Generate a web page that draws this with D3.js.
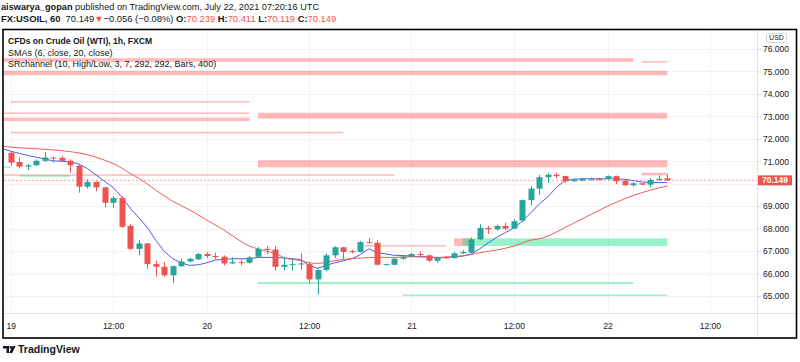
<!DOCTYPE html>
<html>
<head>
<meta charset="utf-8">
<script src="https://cdn.jsdelivr.net/npm/d3@7"></script>
<style>
body { margin: 0; background: #fff; }
svg { display: block; font-family: "Liberation Sans", Arial, sans-serif; }
</style>
</head>
<body>
<svg id="chart" width="800" height="362"></svg>
<script>
// candles, 1h bars, index 0 = Jul 19 00:00
var opens  = [71.38,70.97,70.76,70.82,71.02,71.17,71.15,71.02,70.80,69.87,70.08,69.84,69.15,69.36,68.12,67.10,67.34,66.42,66.30,65.92,
              66.33,66.54,66.63,66.87,66.78,66.75,66.45,66.51,66.48,66.75,67.10,67.07,66.30,66.40,66.42,66.42,65.74,66.16,66.81,67.17,
              67.00,66.96,67.40,67.37,66.39,66.39,66.66,66.75,66.87,66.81,66.57,66.72,66.69,66.90,66.93,67.52,68.03,67.97,68.12,68.00,
              68.36,69.27,69.78,70.29,70.40,70.34,70.11,70.14,70.20,70.22,70.22,70.34,70.14,69.93,70.02,69.96,70.17,70.239];
var highs  = [71.42,71.18,70.88,71.09,71.41,71.20,71.23,71.09,70.85,70.20,70.10,69.86,69.45,69.45,68.20,67.50,67.36,66.57,66.51,66.36,
              66.66,66.70,66.92,66.96,66.93,66.81,66.72,66.63,66.78,67.19,67.22,67.22,66.75,66.63,66.90,66.51,66.24,66.90,67.22,67.19,
              67.06,67.46,67.58,67.49,66.44,66.69,66.78,66.93,66.99,66.84,66.74,66.78,66.96,67.05,67.61,68.20,68.12,68.18,68.26,68.42,
              69.30,69.90,70.40,70.49,70.49,70.36,70.25,70.25,70.28,70.26,70.37,70.36,70.16,70.08,70.05,70.25,70.37,70.411];
var lows   = [70.79,70.67,70.61,70.80,70.97,70.94,71.00,70.49,69.60,69.78,69.66,68.95,68.92,68.03,67.05,66.81,66.21,65.86,65.86,65.59,
              66.28,66.50,66.60,66.69,66.63,66.36,66.42,66.36,66.45,66.72,66.87,66.13,66.13,66.13,66.16,65.59,65.06,66.10,66.69,66.63,
              66.90,66.93,67.36,66.36,66.36,66.36,66.60,66.72,66.78,66.51,66.48,66.66,66.66,66.88,66.90,67.48,67.76,67.90,67.95,67.98,
              68.30,69.04,69.51,70.04,70.25,70.04,70.08,70.11,70.14,70.15,70.18,69.99,69.90,69.87,69.93,69.84,70.14,70.119];
var closes = [70.94,70.76,70.82,71.02,71.17,71.15,71.02,70.82,69.87,70.08,69.84,69.15,69.36,68.08,67.10,67.34,66.42,66.30,65.92,66.33,
              66.54,66.66,66.87,66.78,66.76,66.45,66.51,66.48,66.72,67.10,67.05,66.30,66.39,66.42,66.45,65.74,66.16,66.81,67.17,66.96,
              66.95,67.40,67.37,66.39,66.42,66.66,66.75,66.87,66.84,66.57,66.72,66.69,66.90,66.96,67.52,68.03,67.97,68.12,68.00,68.33,
              69.27,69.78,70.29,70.40,70.34,70.11,70.17,70.22,70.22,70.20,70.34,70.11,69.93,70.02,69.96,70.17,70.22,70.149];

// SMA 6, bar -1 .. 77
var sma6 = [71.56,71.45,71.35,71.26,71.18,71.10,71.02,71.00,70.97,70.88,70.67,70.40,70.11,69.84,69.42,68.92,68.50,68.06,67.49,66.99,66.66,
            66.48,66.36,66.39,66.48,66.60,66.63,66.66,66.66,66.66,66.72,66.72,66.72,66.69,66.66,66.63,66.36,66.24,66.36,66.48,66.57,
            66.66,66.84,67.10,66.93,66.87,66.81,66.80,66.78,66.75,66.75,66.69,66.72,66.75,66.78,66.87,67.10,67.37,67.61,67.82,68.03,
            68.33,68.71,69.10,69.42,69.84,70.14,70.20,70.22,70.22,70.22,70.22,70.22,70.20,70.14,70.08,70.05,70.05,70.05];
// SMA 20 at these bars
var sma20Bars = [-1,0,3,6,9,11,12,13,14,15,17,19,21,23,25,27,28,29,30,31,32,34,35,36,37,39,41,43,45,47,50,53,55,57,59,61,62,66,70,72,74,76,77];
var sma20Vals = [71.68,71.63,71.56,71.47,71.29,71.05,70.90,70.70,70.46,70.25,69.72,69.22,68.83,68.38,67.94,67.43,67.22,67.10,66.99,66.90,66.72,66.57,66.48,66.45,
                 66.51,66.63,66.69,66.72,66.72,66.75,66.72,66.78,66.93,67.05,67.22,67.49,67.55,68.24,69.00,69.33,69.60,69.81,69.90];

// SRchannel zones: [from bar, to bar, top price, bottom price]
var resistZones = [[-1,73,75.59,75.43],[74,77,75.46,75.44],[-1,77,75.03,74.83],[0,28,73.68,73.66],[-1,28,73.17,73.15],
                   [-1,28,72.94,72.79],[29,77,73.16,72.90],[0,39,72.31,72.29],[29,77,71.05,70.73],[74,77,70.49,70.37],
                   [-1,45,70.42,70.40],[52,54,67.57,67.23],[41.5,51,67.27,67.25]];
var supportZones = [[-1,0,70.77,70.75],[1,7,70.38,70.36],[53,77,67.57,67.23],[29,73,65.62,65.53],[46,77,65.07,65.05]];

var gridPrices = [65,66,67,68,69,70,71,72,73,74,75,76];
var priceLabels = [65,66,67,68,69,71,72,73,74,75,76];
var timeTickBars = [0,12,23,35,47,59,70,82];
var timeTickLabels = ["19","12:00","20","12:00","21","12:00","22","12:00"];
var lastPrice = 70.149;

var up = "#26a69a", down = "#ef5350";
var pane = {left: 4, right: 757, top: 30, bottom: 313};

var svg = d3.select("#chart");
var x = d3.scaleLinear().domain([0, 77]).range([10.7, 667.3]);
var y = d3.scaleLinear().domain([65, 76]).range([296, 49]);

svg.append("clipPath").attr("id", "paneClip").append("rect")
  .attr("x", pane.left).attr("y", pane.top)
  .attr("width", pane.right - pane.left).attr("height", pane.bottom - pane.top);

//grid
var grid = svg.append("g");
grid.selectAll(".hg").data(gridPrices).enter().append("line")
  .attr("x1", pane.left).attr("x2", pane.right)
  .attr("y1", function(d) { return Math.round(y(d)) + 0.5; })
  .attr("y2", function(d) { return Math.round(y(d)) + 0.5; })
  .attr("stroke", "#f0f3fa");
grid.selectAll(".vg").data(timeTickBars).enter().append("line")
  .attr("x1", function(d) { return Math.round(x(d)) + 0.5; })
  .attr("x2", function(d) { return Math.round(x(d)) + 0.5; })
  .attr("y1", pane.top).attr("y2", pane.bottom)
  .attr("stroke", "#f0f3fa");

var plot = svg.append("g").attr("clip-path", "url(#paneClip)");

//SR zones
function drawZones(zones, color)
{
  plot.append("g").selectAll("rect").data(zones).enter().append("rect")
    .attr("x", function(d) { return x(d[0]); })
    .attr("width", function(d) { return x(d[1]) - x(d[0]); })
    .attr("y", function(d) { return y(d[2]); })
    .attr("height", function(d) { return Math.max(1.5, y(d[3]) - y(d[2])); })
    .attr("fill", color);
}
drawZones(resistZones, "rgba(255,70,70,0.38)");
drawZones(supportZones, "rgba(0,222,120,0.4)");

//last price line
plot.append("line")
  .attr("x1", pane.left).attr("x2", pane.right)
  .attr("y1", y(lastPrice)).attr("y2", y(lastPrice))
  .attr("stroke", down).attr("stroke-opacity", 0.55)
  .attr("stroke-dasharray", "2,2");

//moving averages
var sma6Line = d3.line()
  .x(function(d, i) { return x(i - 1); })
  .y(function(d) { return y(d); });
plot.append("path").attr("d", sma6Line(sma6))
  .attr("fill", "none").attr("stroke", "#5656f2").attr("stroke-width", 1);

var sma20Line = d3.line().curve(d3.curveMonotoneX)
  .x(function(d, i) { return x(sma20Bars[i]); })
  .y(function(d) { return y(d); });
plot.append("path").attr("d", sma20Line(sma20Vals))
  .attr("fill", "none").attr("stroke", "#f45a5a").attr("stroke-width", 1);

//candles
var bars = d3.range(opens.length);
var cg = plot.append("g");
cg.selectAll(".wick").data(bars).enter().append("line")
  .attr("x1", function(i) { return Math.round(x(i)) + 0.5; })
  .attr("x2", function(i) { return Math.round(x(i)) + 0.5; })
  .attr("y1", function(i) { return y(highs[i]); })
  .attr("y2", function(i) { return y(lows[i]); })
  .attr("stroke", function(i) { return closes[i] >= opens[i] ? up : down; });
cg.selectAll(".body").data(bars).enter().append("rect")
  .attr("x", function(i) { return Math.round(x(i)) + 0.5 - 3; })
  .attr("width", 6)
  .attr("y", function(i) { return y(Math.max(opens[i], closes[i])); })
  .attr("height", function(i) { return Math.max(1, Math.abs(y(opens[i]) - y(closes[i]))); })
  .attr("fill", function(i) { return closes[i] >= opens[i] ? up : down; });

//price axis
var yAxis = d3.axisRight(y).tickValues(priceLabels).tickFormat(d3.format(".3f")).tickSize(4).tickPadding(2);
var ya = svg.append("g").attr("transform", "translate(" + pane.right + ",0)").call(yAxis);
ya.select(".domain").remove();
ya.selectAll("line").attr("stroke", "#d1d4dc");
ya.selectAll("text").attr("fill", "#131722").style("font-size", "8.5px");
svg.append("line").attr("x1", pane.right + 0.5).attr("x2", pane.right + 0.5)
  .attr("y1", pane.top).attr("y2", 338).attr("stroke", "#e0e3eb");

//time axis
var xAxis = d3.axisBottom(x).tickValues(timeTickBars)
  .tickFormat(function(d, i) { return timeTickLabels[i]; }).tickSize(0).tickPadding(10);
var xa = svg.append("g").attr("transform", "translate(0," + pane.bottom + ")").call(xAxis);
xa.select(".domain").remove();
xa.selectAll("text").attr("fill", "#131722").style("font-size", "8.5px");
svg.append("line").attr("x1", pane.left).attr("x2", 796)
  .attr("y1", pane.bottom + 0.5).attr("y2", pane.bottom + 0.5).attr("stroke", "#e0e3eb");

//last price label
svg.append("rect").attr("x", 758).attr("y", y(lastPrice) - 5).attr("width", 34).attr("height", 10)
  .attr("fill", down);
svg.append("text").attr("x", 775).attr("y", y(lastPrice)).attr("dy", "0.35em")
  .attr("text-anchor", "middle").attr("fill", "#fff").style("font-size", "8.5px").style("font-weight", "bold")
  .text(d3.format(".3f")(lastPrice));

//currency box
svg.append("rect").attr("x", 766.5).attr("y", 33.5).attr("width", 20).attr("height", 9).attr("rx", 2)
  .attr("fill", "#fff").attr("stroke", "#d1d4dc");
svg.append("text").attr("x", 776.5).attr("y", 38).attr("dy", "0.35em").attr("text-anchor", "middle")
  .attr("fill", "#131722").style("font-size", "7px").text("USD");

//frame
svg.append("rect").attr("x", 3).attr("y", 29.5).attr("width", 793.5).attr("height", 308.5)
  .attr("fill", "none").attr("stroke", "#000").attr("stroke-width", 1.6);

//legend
var lg = svg.append("g").style("font-size", "9px").attr("fill", "#131722");
lg.append("text").attr("x", 8).attr("y", 44).style("font-weight", "bold").style("font-size", "8.6px")
  .text("CFDs on Crude Oil (WTI), 1h, FXCM");
lg.append("text").attr("x", 8).attr("y", 55.5).text("SMAs (6, close, 20, close)");
lg.append("text").attr("x", 8).attr("y", 66.5).text("SRchannel (10, High/Low, 3, 7, 292, 292, Bars, 400)");

//header
var h1 = svg.append("text").attr("x", 1).attr("y", 10).style("font-size", "9.2px").attr("fill", "#131722");
h1.append("tspan").style("font-weight", "bold").text("aiswarya_gopan");
h1.append("tspan").text(" published on TradingView.com, July 22, 2021 07:20:16 UTC");
var h2 = svg.append("text").attr("x", 1).attr("y", 21.5).style("font-size", "9.4px").attr("fill", "#131722");
h2.append("tspan").style("font-weight", "bold").text("FX:USOIL, 60");
h2.append("tspan").text("\u00a0 70.149");
h2.append("tspan").attr("fill", down).text("\u25bc");
h2.append("tspan").text("\u22120.056 (\u22120.08%) ");
[["O:", "70.239"], ["H:", "70.411"], ["L:", "70.119"], ["C:", "70.149"]].forEach(function(p)
  {
    h2.append("tspan").style("font-weight", "bold").text(" " + p[0]);
    h2.append("tspan").attr("fill", down).text(p[1]);
  });

//logo
var logo = svg.append("g").attr("fill", "#131722");
logo.append("path").attr("d", "M3,346 h6 v7 h-2.5 v-4.5 h-3.5 z");
logo.append("circle").attr("cx", 10.8).attr("cy", 347.4).attr("r", 1.3);
logo.append("path").attr("d", "M12.6,346 h3 l-3.4,7 h-3 z");
logo.append("text").attr("x", 18).attr("y", 353).style("font-size", "10.5px").style("font-weight", "600")
  .text("TradingView");
</script>
</body>
</html>
